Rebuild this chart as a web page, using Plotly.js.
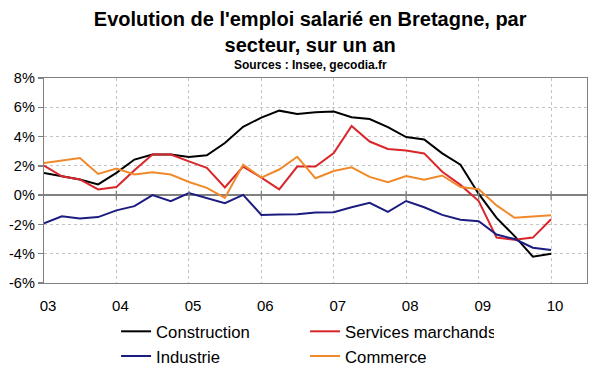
<!DOCTYPE html>
<html><head><meta charset="utf-8">
<script src="https://cdn.plot.ly/plotly-3.0.1.min.js"></script>
<style>html,body{margin:0;padding:0;background:#fff}#chart{width:600px;height:372px}</style>
</head><body><div id="chart"></div>
<script>
const quarters = ['2003-01-01','2003-04-01','2003-07-01','2003-10-01',
  '2004-01-01','2004-04-01','2004-07-01','2004-10-01',
  '2005-01-01','2005-04-01','2005-07-01','2005-10-01',
  '2006-01-01','2006-04-01','2006-07-01','2006-10-01',
  '2007-01-01','2007-04-01','2007-07-01','2007-10-01',
  '2008-01-01','2008-04-01','2008-07-01','2008-10-01',
  '2009-01-01','2009-04-01','2009-07-01','2009-10-01',
  '2010-01-01'];
const construction = [1.52,1.29,1.07,0.73,1.52,2.43,2.77,2.77,2.6,2.72,3.56,4.67,5.3,5.77,5.55,5.66,5.71,5.32,5.2,4.65,3.97,3.8,2.85,2.08,0.08,-1.55,-2.8,-4.2,-4.0];
const services = [2.02,1.29,1.07,0.39,0.55,1.7,2.77,2.77,2.31,1.86,0.52,1.95,1.2,0.4,1.95,1.95,2.87,4.72,3.66,3.15,3.05,2.85,1.6,0.7,-0.4,-2.9,-3.05,-2.9,-1.65];
const industrie = [-1.93,-1.45,-1.59,-1.5,-1.04,-0.75,0.0,-0.41,0.14,-0.18,-0.55,0.02,-1.35,-1.33,-1.3,-1.18,-1.17,-0.83,-0.53,-1.15,-0.4,-0.83,-1.35,-1.68,-1.78,-2.69,-3.0,-3.59,-3.75];
const commerce = [2.2,2.38,2.54,1.45,1.81,1.41,1.56,1.41,0.9,0.5,-0.19,2.08,1.2,1.75,2.62,1.15,1.65,1.9,1.25,0.88,1.3,1.06,1.34,0.55,0.4,-0.7,-1.55,-1.46,-1.38];
const seriesNames = ['Construction','Services marchands','Industrie','Commerce'];
const seriesColors = ['#000000','#d8262a','#1c1c80','#f0892a'];
const yearTicks = ['2003-01-01','2004-01-01','2005-01-01','2006-01-01','2007-01-01','2008-01-01','2009-01-01','2010-01-01'];
const yearLabels = ['03','04','05','06','07','08','09','10'];
const yTickVals = [-6,-4,-2,0,2,4,6,8];
const yTickLabels = ['-6%','-4%','-2%','0%','2%','4%','6%','8%'];

const FONT = 'Liberation Sans, Arial, sans-serif';
const allSeries = [construction, services, industrie, commerce];
const traces = allSeries.map((ys, i) => ({
  type: 'scatter', mode: 'lines', x: quarters, y: ys, name: seriesNames[i],
  line: {color: seriesColors[i], width: 2}
}));

const shapes = yearTicks.slice(1).map(t => ({
  type: 'line', xref: 'x', yref: 'y', ysizemode: 'pixel', yanchor: 0,
  x0: t, x1: t, y0: -4.5, y1: 4.5, line: {color: '#808080', width: 1.3}
}));

const layout = {
  width: 600, height: 372,
  margin: {l: 44, r: 13, t: 78, b: 89, autoexpand: false},
  paper_bgcolor: '#fff', plot_bgcolor: '#fff',
  font: {family: FONT, color: '#000'},
  title: {
    text: "Evolution de l'emploi salarié en Bretagne, par<br>secteur, sur un an",
    font: {size: 20, weight: 'bold', family: FONT, color: '#000'},
    xref: 'container', x: 0.517, xanchor: 'center',
    yref: 'container', y: 0.929, yanchor: 'middle'
  },
  annotations: [{
    text: 'Sources : Insee, gecodia.fr', showarrow: false,
    xref: 'paper', x: 0.49, xanchor: 'center',
    yref: 'paper', y: 1.0634, yanchor: 'middle',
    font: {size: 12, weight: 'bold', family: FONT, color: '#000'}
  }],
  xaxis: {
    type: 'date', range: ['2003-01-01', '2010-07-01'],
    tickmode: 'array', tickvals: yearTicks, ticktext: yearLabels,
    ticks: '', showgrid: true, gridcolor: '#c4c4c4', griddash: 'dot', gridwidth: 1,
    showline: true, mirror: true, linecolor: '#808080', linewidth: 1.3,
    zeroline: false, tickfont: {size: 15, family: FONT, color: '#000'},
    ticklabelshift: 4, ticklabelstandoff: 9
  },
  yaxis: {
    range: [-6, 8], tickmode: 'array', tickvals: yTickVals, ticktext: yTickLabels,
    ticks: 'outside', ticklen: 5, tickcolor: '#808080', tickwidth: 1.3,
    showgrid: true, gridcolor: '#c4c4c4', griddash: 'dot', gridwidth: 1,
    showline: true, mirror: true, linecolor: '#808080', linewidth: 1.3,
    zeroline: true, zerolinecolor: '#808080', zerolinewidth: 1.5,
    tickfont: {size: 14.5, family: FONT, color: '#000'}
  },
  shapes: shapes,
  showlegend: true,
  legend: {
    orientation: 'h', x: 0.1327, xanchor: 'left', y: -0.151, yanchor: 'top',
    entrywidth: 144, entrywidthmode: 'pixels',
    font: {size: 16.7, family: FONT, color: '#000'}, bgcolor: 'rgba(0,0,0,0)'
  }
};
Plotly.newPlot('chart', traces, layout, {displayModeBar: false, staticPlot: true});
</script></body></html>
